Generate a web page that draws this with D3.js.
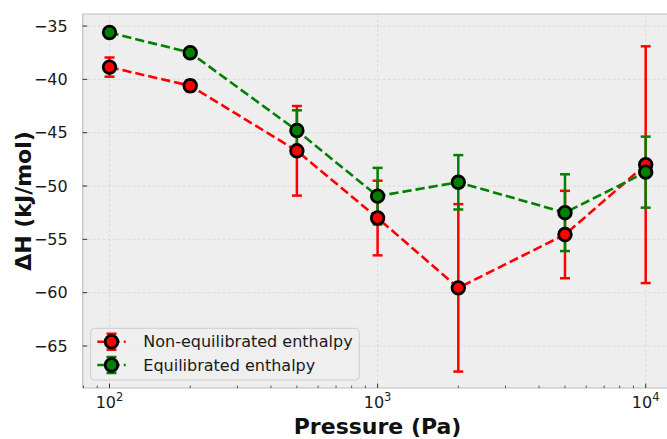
<!DOCTYPE html>
<html>
<head>
<meta charset="utf-8">
<script src="https://cdn.jsdelivr.net/npm/d3@7"></script>
<style>
  html, body { margin: 0; padding: 0; background: #ffffff; }
  svg { display: block; font-family: "DejaVu Sans", sans-serif; }
</style>
</head>
<body>
<svg id="chart" width="667" height="439"></svg>
<script>
// Pressure (Pa) of each measurement
const pressures = [100, 200, 500, 1000, 2000, 5000, 10000];
// Non-equilibrated enthalpy and its error (kJ/mol)
const nonEqValues = [-38.85, -40.6, -46.7, -53.0, -59.55, -54.55, -48.0];
const nonEqErrors = [0.9, 0.5, 4.2, 3.5, 7.85, 4.1, 11.1];
// Equilibrated enthalpy and its error (kJ/mol)
const eqValues = [-35.6, -37.5, -44.8, -50.95, -49.65, -52.5, -48.7];
const eqErrors = [0.3, 0.3, 1.9, 2.65, 2.55, 3.6, 3.33];
// Axis ticks
const yTicks = [-35, -40, -45, -50, -55, -60, -65];
const xMajorTicks = [100, 1000, 10000];
const xTickExponents = ["2", "3", "4"];
const seriesNames = ["Non-equilibrated enthalpy", "Equilibrated enthalpy"];
const seriesColors = ["#ff0000", "#008000"];

const svg = d3.select("#chart");
const plotLeft = 82.7, plotRight = 672.5, plotTop = 14, plotBottom = 388;

const x = d3.scaleLog().domain([Math.pow(10, 1.9), Math.pow(10, 4.1)]).range([plotLeft, plotRight]);
const y = d3.scaleLinear().domain([-68.94, -33.87]).range([plotBottom, plotTop]);

// plot background
svg.append("rect")
  .attr("x", plotLeft).attr("y", plotTop)
  .attr("width", plotRight - plotLeft).attr("height", plotBottom - plotTop)
  .attr("fill", "#eeeeee");

// grid
const grid = svg.append("g").attr("stroke", "#d6d6d6").attr("stroke-width", 0.8)
  .attr("stroke-dasharray", "3,2");
yTicks.forEach(t => grid.append("line")
  .attr("x1", plotLeft).attr("x2", plotRight).attr("y1", y(t)).attr("y2", y(t)));
xMajorTicks.forEach(t => grid.append("line")
  .attr("x1", x(t)).attr("x2", x(t)).attr("y1", plotTop).attr("y2", plotBottom));

// spines
const spines = svg.append("g").attr("stroke", "#bcbcbc").attr("stroke-width", 1.2);
spines.append("line").attr("x1", plotLeft).attr("x2", plotLeft).attr("y1", plotTop).attr("y2", plotBottom);
spines.append("line").attr("x1", plotLeft).attr("x2", plotRight).attr("y1", plotTop).attr("y2", plotTop);
spines.append("line").attr("x1", plotLeft).attr("x2", plotRight).attr("y1", plotBottom).attr("y2", plotBottom);
spines.append("line").attr("x1", plotRight).attr("x2", plotRight).attr("y1", plotTop).attr("y2", plotBottom);

// y axis (ticks pointing inward)
const yAxis = svg.append("g");
yTicks.forEach(t => {
  yAxis.append("line").attr("x1", plotLeft).attr("x2", plotLeft + 4.5)
    .attr("y1", y(t)).attr("y2", y(t)).attr("stroke", "#333").attr("stroke-width", 1);
  yAxis.append("text").attr("x", plotLeft - 15).attr("y", y(t)).attr("dy", "0.36em")
    .attr("text-anchor", "end").attr("font-size", 16).attr("fill", "#1a1a1a")
    .text("\u2212" + Math.abs(t));
});

// x axis: major and minor log ticks pointing inward
const xAxis = svg.append("g");
const [d0, d1] = x.domain();
for (let e = 1; e <= 4; e++) {
  for (let m = 1; m <= 9; m++) {
    const v = m * Math.pow(10, e);
    if (v < d0 || v > d1) continue;
    const major = m === 1;
    xAxis.append("line").attr("x1", x(v)).attr("x2", x(v))
      .attr("y1", plotBottom).attr("y2", plotBottom - (major ? 4.5 : 2.5))
      .attr("stroke", "#333").attr("stroke-width", major ? 1 : 0.8);
  }
}
xMajorTicks.forEach((t, i) => {
  const txt = xAxis.append("text").attr("x", x(t)).attr("y", 407.5)
    .attr("text-anchor", "middle").attr("font-size", 16).attr("fill", "#1a1a1a");
  txt.append("tspan").text("10");
  txt.append("tspan").attr("dy", -7).attr("font-size", 11.5).text(xTickExponents[i]);
});

// axis titles
svg.append("text").attr("x", (plotLeft + plotRight) / 2).attr("y", 434)
  .attr("text-anchor", "middle").attr("font-size", 22).attr("font-weight", "bold")
  .attr("fill", "#111").text("Pressure (Pa)");
svg.append("text").attr("transform", `translate(31,${(plotTop + plotBottom) / 2}) rotate(-90)`)
  .attr("text-anchor", "middle").attr("font-size", 22).attr("font-weight", "bold")
  .attr("fill", "#111").text("\u0394H (kJ/mol)");

const series = [
  { name: seriesNames[0], values: nonEqValues, errors: nonEqErrors, color: seriesColors[0] },
  { name: seriesNames[1], values: eqValues, errors: eqErrors, color: seriesColors[1] }
];

const plot = svg.append("g");
const capHalf = 5;
const markerR = 6.3, markerEdge = 2.8;

// error bars first, then dashed lines with markers on top
series.forEach(s => {
  const g = plot.append("g").attr("stroke", s.color).attr("stroke-width", 2.5);
  pressures.forEach((p, i) => {
    const lo = s.values[i] - s.errors[i], hi = s.values[i] + s.errors[i];
    g.append("line").attr("x1", x(p)).attr("x2", x(p)).attr("y1", y(lo)).attr("y2", y(hi));
    [lo, hi].forEach(v => g.append("line")
      .attr("x1", x(p) - capHalf).attr("x2", x(p) + capHalf)
      .attr("y1", y(v)).attr("y2", y(v)));
  });
});

const line = d3.line().x(d => x(d[0])).y(d => y(d[1]));
series.forEach(s => {
  const pts = pressures.map((p, i) => [p, s.values[i]]);
  plot.append("path").datum(pts).attr("d", line)
    .attr("fill", "none").attr("stroke", s.color).attr("stroke-width", 2.6)
    .attr("stroke-dasharray", "9.25,4");
  plot.selectAll(null).data(pts).enter().append("circle")
    .attr("cx", d => x(d[0])).attr("cy", d => y(d[1])).attr("r", markerR)
    .attr("fill", s.color).attr("stroke", "#000").attr("stroke-width", markerEdge);
});

// legend
const legend = svg.append("g");
legend.append("rect").attr("x", 90.7).attr("y", 328.3).attr("width", 268.6).attr("height", 51.7)
  .attr("rx", 4).attr("fill", "#eeeeee").attr("fill-opacity", 0.85)
  .attr("stroke", "#cccccc").attr("stroke-width", 1);
series.forEach((s, i) => {
  const cy = 341.7 + i * 23.3, cx = 111.5;
  const g = legend.append("g");
  g.append("line").attr("x1", cx).attr("x2", cx).attr("y1", cy - 8).attr("y2", cy + 8)
    .attr("stroke", s.color).attr("stroke-width", 2.5);
  [cy - 8, cy + 8].forEach(v => g.append("line").attr("x1", cx - capHalf).attr("x2", cx + capHalf)
    .attr("y1", v).attr("y2", v).attr("stroke", s.color).attr("stroke-width", 2.5));
  g.append("line").attr("x1", 97.3).attr("x2", 125.7).attr("y1", cy).attr("y2", cy)
    .attr("stroke", s.color).attr("stroke-width", 2.6).attr("stroke-dasharray", "9.25,4");
  g.append("circle").attr("cx", cx).attr("cy", cy).attr("r", markerR)
    .attr("fill", s.color).attr("stroke", "#000").attr("stroke-width", markerEdge);
  g.append("text").attr("x", 143.3).attr("y", cy).attr("dy", "0.36em")
    .attr("font-size", 16).attr("fill", "#1a1a1a").text(s.name);
});
</script>
</body>
</html>
